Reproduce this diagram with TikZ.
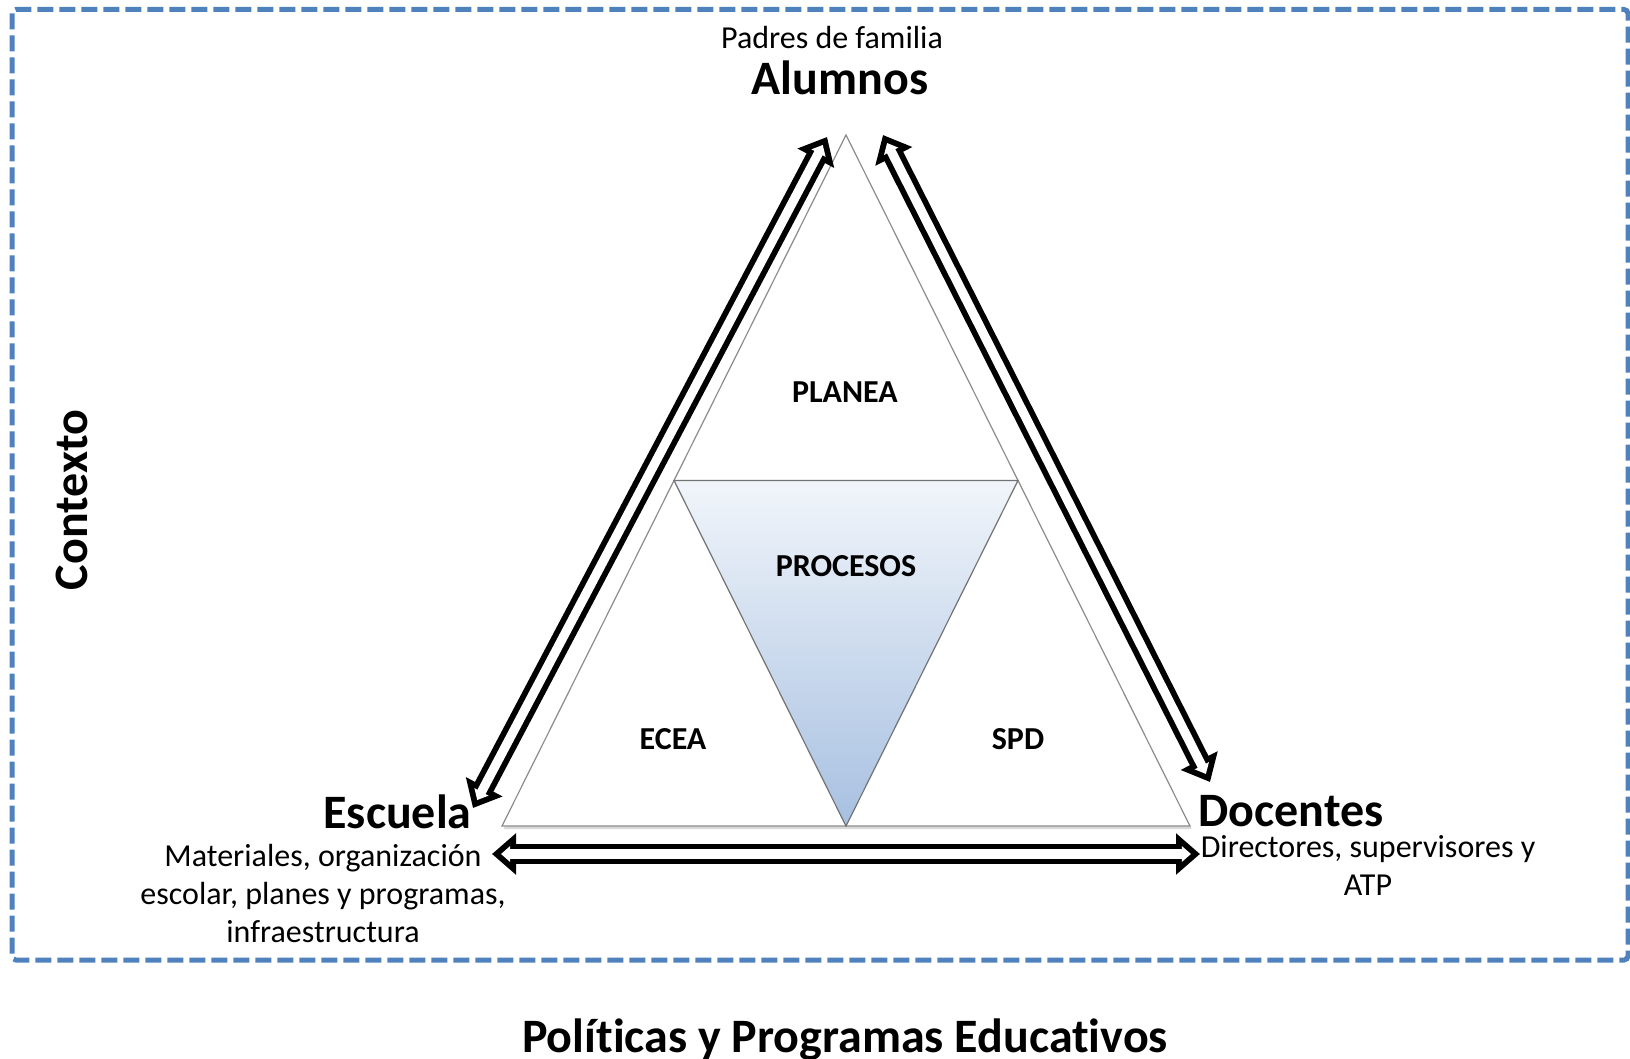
\documentclass[tikz,border=0pt]{standalone}
\usepackage{fontspec}
\setmainfont{Carlito}[Ligatures=NoCommon]
\usetikzlibrary{arrows.meta, positioning, shadows}

\definecolor{frameblue}{RGB}{79,129,189}
\definecolor{proctop}{RGB}{241,245,250}
\definecolor{procbottom}{RGB}{167,192,225}

\begin{document}
\begin{tikzpicture}[
    x=0.5pt, y=-0.5pt,
    title/.style={font=\bfseries\fontsize{24}{29}\selectfont, inner sep=0pt},
    note/.style={font=\fontsize{16}{19}\selectfont, align=center, inner sep=0pt},
    part/.style={font=\bfseries\fontsize{16}{19}\selectfont, inner sep=0pt, anchor=base},
    link/.style={draw=black, line width=10.4pt, {Triangle[length=12pt, width=20pt]}-{Triangle[length=12pt, width=20pt]}},
    linkcore/.style={draw=white, line width=4.6pt, shorten <=4.5pt, shorten >=4.5pt, {Triangle[length=4.6pt, width=7.7pt]}-{Triangle[length=4.6pt, width=7.7pt]}},
    edge/.style={draw=black!45, line width=0.6pt}
]
    \useasboundingbox (0,0) rectangle (1630,1059);

    % Context frame
    \draw[frameblue, line width=2.5pt, dash pattern=on 8pt off 3pt, rounded corners=2pt] (12,9.5) rectangle (1628,960);

    % Triangle corners
    \coordinate (apex) at (846,135);
    \coordinate (cornerL) at (502,826);
    \coordinate (cornerR) at (1190,826);
    \coordinate (midL) at (674,480.5);
    \coordinate (midR) at (1018,480.5);
    \coordinate (midB) at (846,826);

    % Outer triangle
    \filldraw[edge, fill=white, drop shadow={shadow xshift=0.8pt, shadow yshift=-1.5pt, opacity=0.3}] (apex) -- (cornerR) -- (cornerL) -- cycle;

    % Inner triangle
    \draw[edge, draw=black!55, top color=proctop, bottom color=procbottom] (midL) -- (midR) -- (midB) -- cycle;

    % Parts
    \foreach \name/\x/\y/\txt in {planea/845/403/PLANEA, procesos/846/576/PROCESOS, ecea/673/749/ECEA, spd/1018/749/SPD} {
        \node[part] (\name) at (\x,\y) {\txt};
    }

    % Corners
    \node[note, anchor=base] (padres) at (832,49) {Padres de familia};
    \node[title, anchor=base] (alumnos) at (840,95) {Alumnos};
    \node[title, anchor=base east] (escuela) at (472,828) {Escuela};
    \node[note, anchor=base] (materiales) at (323,942) {Materiales, organización\\escolar, planes y programas,\\infraestructura};
    \node[title, anchor=base west] (docentes) at (1198,826) {Docentes};
    \node[note, anchor=base] (directores) at (1368,895) {Directores, supervisores y\\ATP};

    % Side and bottom
    \node[title, rotate=90, anchor=base] (contexto) at (87,500) {Contexto};
    \node[title, anchor=base] (politicas) at (845,1052) {Políticas y Programas Educativos};

    % Arrows
    \coordinate (alumnosL) at (827,137);
    \coordinate (alumnosR) at (883,135);
    \coordinate (escuelaT) at (473,808);
    \coordinate (escuelaR) at (492,854);
    \coordinate (docentesT) at (1210,782);
    \coordinate (docentesL) at (1200,854);
    \foreach \from/\to in {alumnosL/escuelaT, alumnosR/docentesT, escuelaR/docentesL} {
        \draw[link] (\from) -- (\to);
        \draw[linkcore] (\from) -- (\to);
    }

\end{tikzpicture}
\end{document}
